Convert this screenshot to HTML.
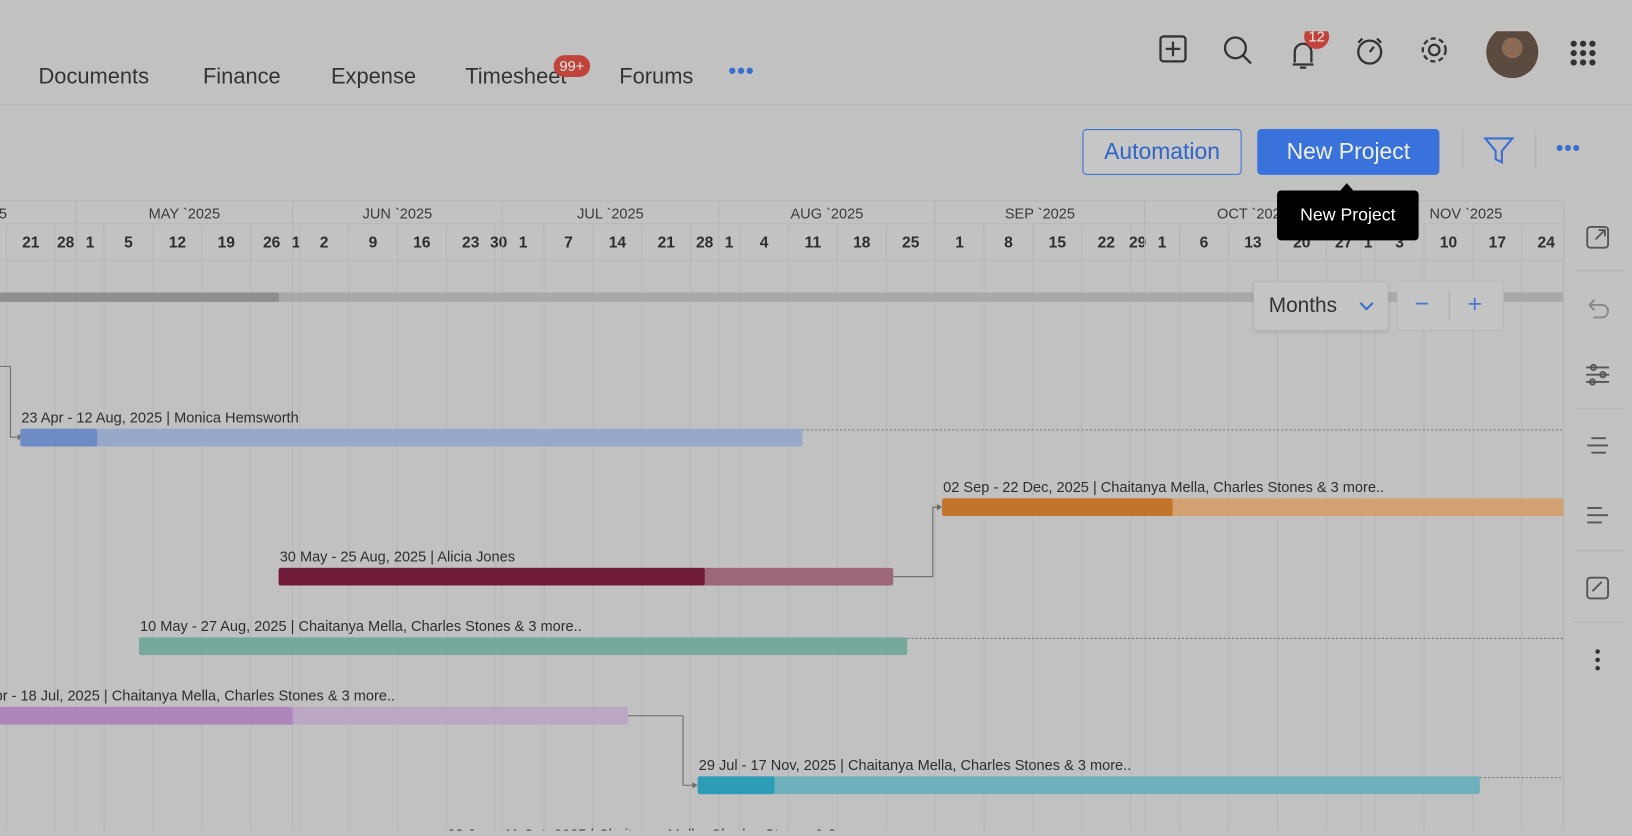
<!DOCTYPE html>
<html><head><meta charset="utf-8">
<style>
html,body{margin:0;padding:0;width:1632px;height:831px;overflow:hidden;background:#c1c1c1;}
#stage{position:absolute;left:0;top:0;width:1568px;height:798px;transform:scale(1.0408);transform-origin:0 0;font-family:"Liberation Sans",sans-serif;color:#2a2a2a;}
.abs{position:absolute;}
.nav{position:absolute;top:62px;font-size:21px;color:#333;}
.btn{position:absolute;border-radius:4px;font-size:22px;display:flex;align-items:center;justify-content:center;box-sizing:border-box;}
</style></head><body>
<div id="stage">
<svg id="gantt" class="abs" style="left:0;top:0" width="1568" height="798"></svg>

<div class="nav" style="left:37px">Documents</div>
<div class="nav" style="left:195px">Finance</div>
<div class="nav" style="left:318px">Expense</div>
<div class="nav" style="left:447px">Timesheet</div>
<div class="abs" style="left:532px;top:53px;width:35px;height:21px;border-radius:11px;background:#c0443c;color:#eee;font-size:14px;text-align:center;line-height:21px">99+</div>
<div class="nav" style="left:595px">Forums</div>
<div class="nav" style="left:700px;top:57px;color:#3a6fd0;font-weight:bold;letter-spacing:1px">•••</div>

<svg class="abs" style="left:1110px;top:30px" width="440" height="90">
 <g fill="none" stroke="#333" stroke-width="2.2">
  <rect x="5" y="5" width="24" height="24" rx="3"/><path d="M17 10v14M10 17h14"/>
  <circle cx="77" cy="16" r="10"/><path d="M84 23l8 8"/>
  <path d="M132 32h20M134 30v-10a8 8 0 0 1 16 0v10M139 35h6"/>
  <circle cx="206" cy="20" r="11"/><path d="M206 20l4-5M199 7l-4 4M213 7l4 4"/>
  <circle cx="268" cy="18" r="5"/><circle cx="268" cy="18" r="11" stroke-dasharray="5 3"/>
 </g>
 <circle cx="155" cy="5" r="12" fill="#c0443c"/><text x="155" y="10" text-anchor="middle" font-size="14" fill="#eee" font-family="Liberation Sans">12</text>
 <circle cx="343" cy="20" r="25" fill="#5a4a40"/><circle cx="343" cy="16" r="10" fill="#8a6a55"/>
 <g fill="#333">
  <circle cx="402" cy="12" r="3"/><circle cx="411" cy="12" r="3"/><circle cx="420" cy="12" r="3"/>
  <circle cx="402" cy="21" r="3"/><circle cx="411" cy="21" r="3"/><circle cx="420" cy="21" r="3"/>
  <circle cx="402" cy="30" r="3"/><circle cx="411" cy="30" r="3"/><circle cx="420" cy="30" r="3"/>
 </g>
</svg>
<div class="abs" style="left:0;top:100px;width:1568px;height:1px;background:#b5b5b5"></div>

<div class="btn" style="left:1040px;top:124px;width:153px;height:44px;background:#c6c6c6;border:1px solid #3a6fd0;color:#2f64c8">Automation</div>
<div class="btn" style="left:1208px;top:124px;width:175px;height:44px;background:#3a72dc;color:#f0f0f0">New Project</div>
<div class="abs" style="left:1405px;top:128px;width:1px;height:34px;background:#b0b0b0"></div>
<svg class="abs" style="left:1424px;top:130px" width="32" height="30"><path d="M3 3h26l-10 12v11l-6-3v-8z" fill="none" stroke="#3a6fd0" stroke-width="2"/></svg>
<div class="abs" style="left:1475px;top:128px;width:1px;height:34px;background:#b0b0b0"></div>
<div class="abs" style="left:1495px;top:132px;color:#3a6fd0;font-size:20px;font-weight:bold;letter-spacing:1px">•••</div>

<div class="abs" style="left:1227px;top:183px;width:136px;height:48px;background:#000;border-radius:4px;color:#fff;font-size:17px;line-height:48px;text-align:center">New Project</div>
<div class="abs" style="left:1287px;top:176px;width:0;height:0;border-left:7px solid transparent;border-right:7px solid transparent;border-bottom:8px solid #000"></div>

<div class="abs" style="left:1204px;top:270px;width:128px;height:46px;background:#c4c4c4;border:1px solid #b8b8b8;border-radius:4px;box-shadow:0 1px 3px rgba(0,0,0,.1)">
 <span class="abs" style="left:14px;top:12px;font-size:20px;color:#333">Months</span>
 <svg class="abs" style="left:100px;top:17px" width="16" height="12"><path d="M2 3l6 6 6-6" fill="none" stroke="#3a6fd0" stroke-width="2"/></svg>
</div>
<div class="abs" style="left:1342px;top:270px;width:101px;height:46px;background:#c4c4c4;border:1px solid #b8b8b8;border-radius:4px">
 <span class="abs" style="left:16px;top:8px;font-size:24px;color:#4a7ad0">−</span>
 <div class="abs" style="left:49px;top:8px;width:1px;height:30px;background:#aaa"></div>
 <span class="abs" style="left:67px;top:8px;font-size:24px;color:#4a7ad0">+</span>
</div>

<div class="abs" style="left:1502px;top:193px;width:66px;height:605px;background:#c2c2c2;border-left:1px solid #b3b3b3">
 <svg width="66" height="605">
  <g fill="none" stroke="#555" stroke-width="1.8">
   <rect x="22" y="25" width="20" height="20" rx="3"/><path d="M30 37l9-9M33 28h6v6"/>
   <path d="M24 100h12a6 6 0 0 1 0 12h-8M24 100l5-5M24 100l5 5" stroke="#888"/>
   <path d="M21 160h22M21 167h22M21 174h22"/><circle cx="28" cy="160" r="2.5"/><circle cx="37" cy="167" r="2.5"/><circle cx="27" cy="174" r="2.5"/>
   <path d="M26 228h14M22 235h20M26 242h14"/>
   <path d="M22 295h14M22 302h20M22 309h14"/>
   <rect x="22" y="362" width="20" height="20" rx="3"/><path d="M27 375l9-9"/>
  </g>
  <g stroke="#b3b3b3"><line x1="8" y1="67" x2="58" y2="67"/><line x1="8" y1="200" x2="58" y2="200"/><line x1="8" y1="336" x2="58" y2="336"/><line x1="8" y1="405" x2="58" y2="405"/></g>
  <g fill="#333"><circle cx="32" cy="433" r="2.2"/><circle cx="32" cy="441" r="2.2"/><circle cx="32" cy="449" r="2.2"/></g>
 </svg>
</div>
</div>

<script>
const taskLabels = ["23 Apr - 12 Aug, 2025 | Monica Hemsworth","02 Sep - 22 Dec, 2025 | Chaitanya Mella, Charles Stones & 3 more..","30 May - 25 Aug, 2025 | Alicia Jones","10 May - 27 Aug, 2025 | Chaitanya Mella, Charles Stones & 3 more..","15 Apr - 18 Jul, 2025 | Chaitanya Mella, Charles Stones & 3 more..","29 Jul - 17 Nov, 2025 | Chaitanya Mella, Charles Stones & 3 more..","23 Jun - 11 Oct, 2025 | Chaitanya Mella, Charles Stones & 3 more.."];
const taskStarts = ["2025-04-23","2025-09-02","2025-05-30","2025-05-10","2025-04-15","2025-07-29","2025-06-23"];
const taskEnds = ["2025-08-12","2025-12-22","2025-08-25","2025-08-27","2025-07-18","2025-11-17","2025-10-11"];
const taskProgress = ["2025-05-04","2025-10-05","2025-07-30","2025-05-10","2025-06-01","2025-08-09","2025-06-23"];
const monthLabels = ["APR `2025","MAY `2025","JUN `2025","JUL `2025","AUG `2025","SEP `2025","OCT `2025","NOV `2025","DEC `2025"];
const monthStarts = ["2025-04-01","2025-05-01","2025-06-01","2025-07-01","2025-08-01","2025-09-01","2025-10-01","2025-11-01","2025-12-01"];
const dependencies = [[2,1],[4,5]];

const darkColors=["#6d8cc6","#c4732a","#6e1a38","#77a89c","#ad86bc","#2d9db6","#8a8aa8"];
const lightColors=["#97a8c8","#d3a171","#9c6878","#77a89c","#bba6c3","#6eb0bc","#a8a8b8"];
const svg=document.getElementById('gantt');
const NS="http://www.w3.org/2000/svg";
const T0=Date.UTC(2025,4,5), X0=100, PPD=6.71, ROW0=412, ROWH=66.8, BARH=17;
function days(s){const p=s.split('-');return (Date.UTC(+p[0],p[1]-1,+p[2])-T0)/864e5;}
function x(s){return X0+PPD*days(s);}
function xe(s){return X0+PPD*(days(s)+1);}
function rowY(i){return ROW0+i*ROWH;}
function mk(tag,attrs,parent){const e=document.createElementNS(NS,tag);for(const k in attrs)e.setAttribute(k,attrs[k]);(parent||svg).appendChild(e);return e;}

mk('rect',{x:0,y:193,width:1502,height:57,fill:'#c2c2c2'});
mk('line',{x1:0,y1:193,x2:1502,y2:193,stroke:'#b5b5b5'});
mk('line',{x1:0,y1:215,x2:1502,y2:215,stroke:'#b8b8b8'});
mk('line',{x1:0,y1:250,x2:1502,y2:250,stroke:'#b8b8b8'});
const segs=[];
for(let d=-14; d<=210; d++){
  const t=new Date(T0+d*864e5);
  if(t.getUTCDay()===1||t.getUTCDate()===1) segs.push({d:d,n:t.getUTCDate()});
}
for(let i=0;i<segs.length-1;i++){
  const a=X0+PPD*segs[i].d, b=X0+PPD*segs[i+1].d;
  const g=mk('line',{x1:a,y1:215,x2:a,y2:798,stroke:'#b6b6b6','stroke-width':1});
  
  
  const tx=mk('text',{x:(a+b)/2,y:238,'text-anchor':'middle','font-size':15,'font-weight':'bold',fill:'#2e2e2e','font-family':'Liberation Sans'});
  tx.textContent=segs[i].n;
  
  
}
for(let i=0;i<monthLabels.length-1;i++){
  const a=x(monthStarts[i]), b=x(monthStarts[i+1]);
  mk('line',{x1:a,y1:193,x2:a,y2:215,stroke:'#b3b3b3'});
  const tx=mk('text',{x:(a+b)/2,y:210,'text-anchor':'middle','font-size':14,fill:'#3a3a3a','font-family':'Liberation Sans'});
  tx.textContent=monthLabels[i];
  
  
}
const sb=mk('rect',{x:0,y:281,width:1502,height:9,fill:'#a9a9a9'});


mk('rect',{x:0,y:281,width:268,height:9,fill:'#8e8e8e'});
mk('path',{d:'M0 352H10V420H20',fill:'none',stroke:'#6a6a6a','stroke-width':1});
mk('path',{d:'M17 417l5 3-5 3z',fill:'#6a6a6a'});
for(let i=0;i<taskLabels.length;i++){
  const y=rowY(i), a=x(taskStarts[i]), b=xe(taskEnds[i]), p=x(taskProgress[i]);
  const bar=mk('rect',{x:a,y:y,width:b-a,height:BARH,rx:2,fill:lightColors[i]});
  
  
  if(p>a){const pr=mk('rect',{x:a,y:y,width:Math.min(p,b)-a,height:BARH,rx:2,fill:darkColors[i]});
    
    }
  const lb=mk('text',{x:a+1,y:y-6,'font-size':14,fill:'#2e2e2e','font-family':'Liberation Sans'});
  lb.textContent=taskLabels[i];
  
  
  if(i===0||i===3||i===5) mk('line',{x1:b,y1:y+1,x2:1502,y2:y+1,stroke:'#777','stroke-dasharray':'2 2'});
}
dependencies.forEach(([f,t])=>{
  const x1=xe(taskEnds[f]), y1=rowY(f)+BARH/2, x2=x(taskStarts[t]), y2=rowY(t)+BARH/2;
  const mx=x1+(f===2?38:53);
  const c=mk('path',{d:`M${x1} ${y1}H${mx}V${y2}H${x2-2}`,fill:'none',stroke:'#6a6a6a','stroke-width':1});
  
  
  mk('path',{d:`M${x2-5} ${y2-3}l5 3-5 3z`,fill:'#6a6a6a'});
});
</script>
</body></html>
